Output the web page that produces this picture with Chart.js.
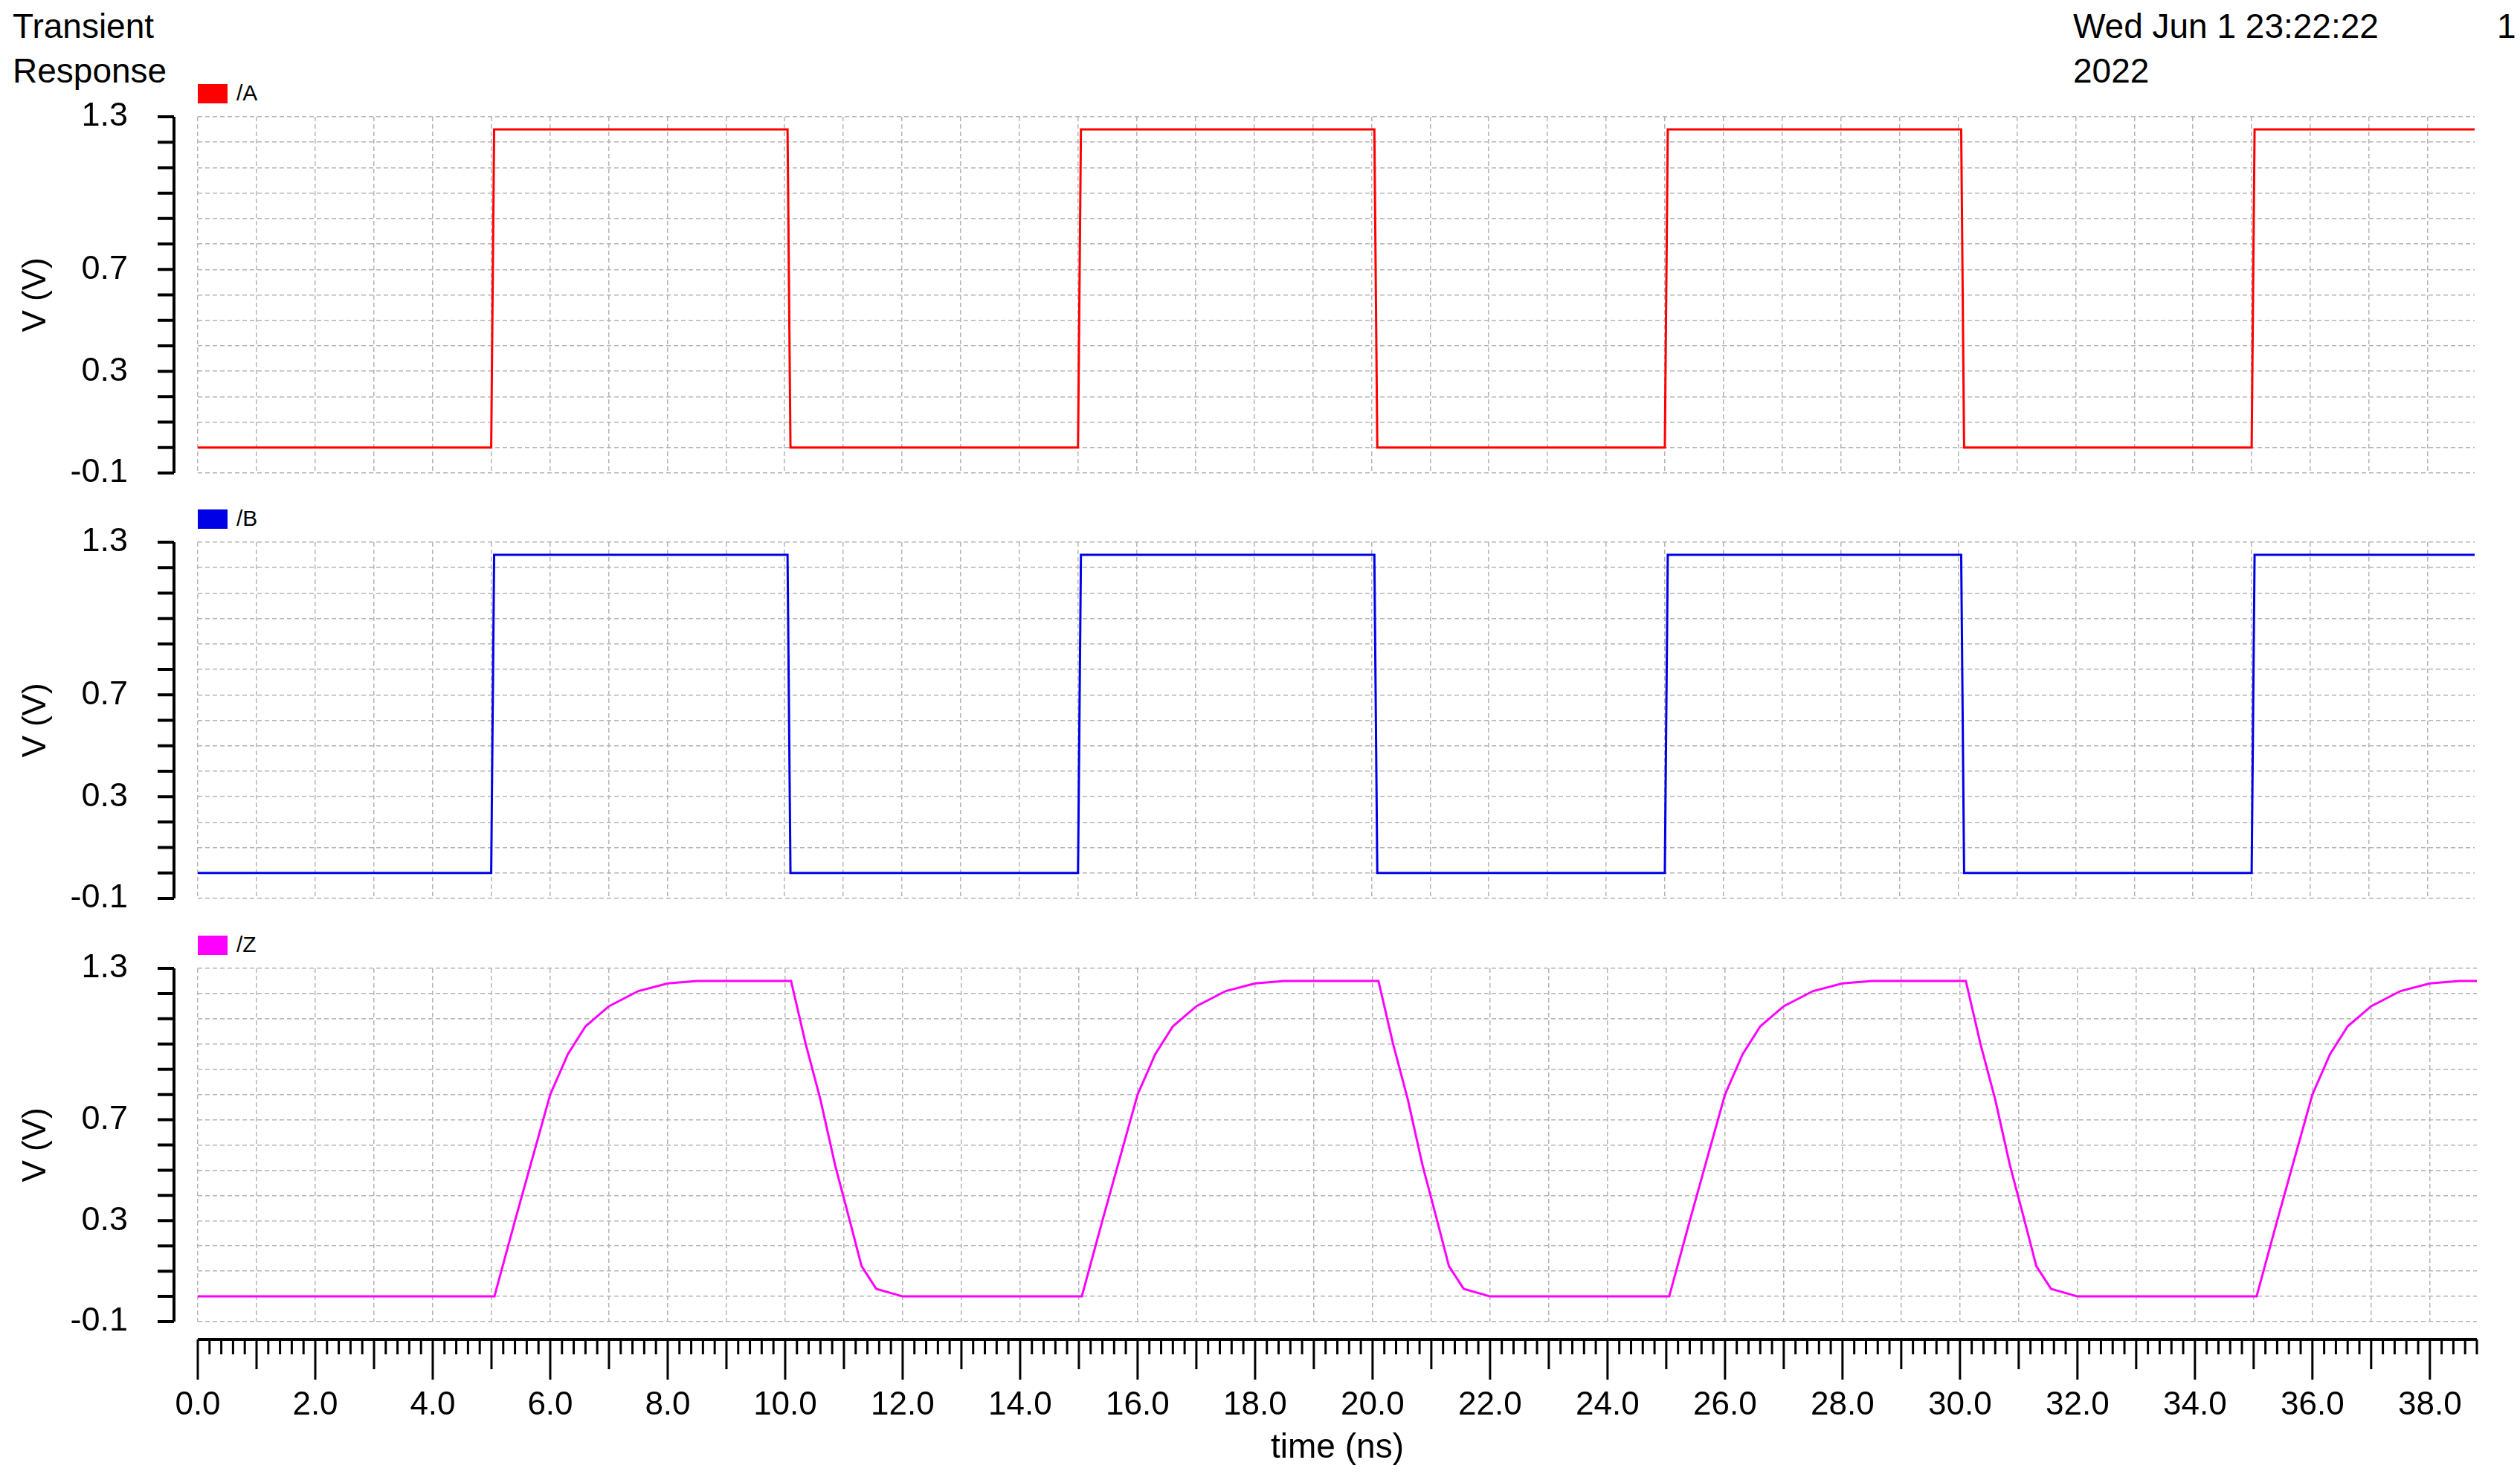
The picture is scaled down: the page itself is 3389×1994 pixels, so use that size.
<!DOCTYPE html>
<html>
<head>
<meta charset="utf-8">
<script src="https://cdn.jsdelivr.net/npm/chart.js@4/dist/chart.umd.min.js"></script>
<style>
  body { margin: 0; width: 3389px; height: 1994px; background: #fff; position: relative; overflow: hidden; font-family: "Liberation Sans", Arial, sans-serif; }
  canvas { position: absolute; left: 0; }
  .txt { position: absolute; font-size: 46px; color: #000; line-height: 60px; }
  .leg { position: absolute; left: 266px; font-size: 30px; }
  .leg span { display: inline-block; width: 40px; height: 26px; vertical-align: -4px; margin-right: 12px; }
</style>
</head>
<body>
<div class="txt" style="left:17px; top:5px;">Transient<br>Response</div>
<div class="txt" style="left:2788px; top:5px;">Wed Jun 1 23:22:22<br>2022</div>
<div class="txt" style="left:3358px; top:5px;">1</div>
<div class="leg" style="top:108px;"><span style="background:#ff0000"></span>/A</div>
<div class="leg" style="top:680px;"><span style="background:#0000e6"></span>/B</div>
<div class="leg" style="top:1253px;"><span style="background:#ff00ff"></span>/Z</div>
<canvas id="cA" width="3389" height="721" style="top:36px"></canvas>
<canvas id="cB" width="3389" height="721" style="top:608px"></canvas>
<canvas id="cZ" width="3417" height="808" style="top:1181px"></canvas>
<script>
const aTime = [0, 5.0, 5.05, 10.05, 10.1, 15.0, 15.05, 20.05, 20.1, 25.0, 25.05, 30.05, 30.1, 35.0, 35.05, 38.8];
const aVolt = [0, 0, 1.25, 1.25, 0, 0, 1.25, 1.25, 0, 0, 1.25, 1.25, 0, 0, 1.25, 1.25];
const bTime = [0, 5.0, 5.05, 10.05, 10.1, 15.0, 15.05, 20.05, 20.1, 25.0, 25.05, 30.05, 30.1, 35.0, 35.05, 38.8];
const bVolt = [0, 0, 1.25, 1.25, 0, 0, 1.25, 1.25, 0, 0, 1.25, 1.25, 0, 0, 1.25, 1.25];
const zTime = [0, 5.05, 5.4, 5.7, 6.0, 6.3, 6.6, 7.0, 7.5, 8.0, 8.5, 10.1, 10.35, 10.6, 10.85, 11.1, 11.3, 11.55, 12.0,
  15.05, 15.4, 15.7, 16.0, 16.3, 16.6, 17.0, 17.5, 18.0, 18.5, 20.1, 20.35, 20.6, 20.85, 21.1, 21.3, 21.55, 22.0,
  25.05, 25.4, 25.7, 26.0, 26.3, 26.6, 27.0, 27.5, 28.0, 28.5, 30.1, 30.35, 30.6, 30.85, 31.1, 31.3, 31.55, 32.0,
  35.05, 35.4, 35.7, 36.0, 36.3, 36.6, 37.0, 37.5, 38.0, 38.5, 38.8];
const zVolt = [0, 0, 0.3, 0.55, 0.8, 0.96, 1.07, 1.15, 1.21, 1.24, 1.25, 1.25, 1.0, 0.78, 0.52, 0.3, 0.12, 0.03, 0,
  0, 0.3, 0.55, 0.8, 0.96, 1.07, 1.15, 1.21, 1.24, 1.25, 1.25, 1.0, 0.78, 0.52, 0.3, 0.12, 0.03, 0,
  0, 0.3, 0.55, 0.8, 0.96, 1.07, 1.15, 1.21, 1.24, 1.25, 1.25, 1.0, 0.78, 0.52, 0.3, 0.12, 0.03, 0,
  0, 0.3, 0.55, 0.8, 0.96, 1.07, 1.15, 1.21, 1.24, 1.25, 1.25];
const yLabels = [1.3, 0.7, 0.3, -0.1];
const xLabelStep = 2;

const PLOT_LEFT = 266, AXIS_X = 234;

// offset axis lines and tick marks, like the simulator plot
const axisDecor = {
  id: 'axisDecor',
  afterDraw(chart) {
    const ctx = chart.ctx, area = chart.chartArea;
    const y = chart.scales.y;
    ctx.save();
    ctx.strokeStyle = '#000';
    ctx.lineWidth = 4;
    ctx.beginPath();
    ctx.moveTo(AXIS_X, y.getPixelForValue(1.3));
    ctx.lineTo(AXIS_X, y.getPixelForValue(-0.1));
    y.ticks.forEach(t => {
      const py = y.getPixelForValue(t.value);
      ctx.moveTo(AXIS_X, py);
      ctx.lineTo(AXIS_X - 22, py);
    });
    ctx.stroke();
    if (chart.options.plugins.axisDecor.bottomAxis) {
      const x = chart.scales.x;
      const ax = area.bottom + 24;
      ctx.beginPath();
      ctx.moveTo(x.getPixelForValue(0), ax);
      ctx.lineTo(area.right, ax);
      ctx.stroke();
      ctx.lineWidth = 3;
      ctx.beginPath();
      x.ticks.forEach(t => {
        const k = Math.round(t.value * 10);
        const len = k % 20 === 0 ? 54 : (k % 10 === 0 ? 40 : 20);
        const px = x.getPixelForValue(t.value);
        ctx.moveTo(px, ax);
        ctx.lineTo(px, ax + len);
      });
      ctx.stroke();
    }
    ctx.restore();
  }
};

function makeChart(id, times, volts, color, showX) {
  const pts = times.map((t, i) => ({ x: t, y: volts[i] }));
  return new Chart(document.getElementById(id), {
    type: 'line',
    data: { datasets: [{ data: pts, borderColor: color, borderWidth: 3, pointRadius: 0, tension: 0, fill: false }] },
    plugins: [axisDecor],
    options: {
      responsive: false, animation: false, events: [],
      layout: { padding: { top: 0, right: 61, bottom: 0, left: 0 } },
      plugins: { legend: { display: false }, tooltip: { enabled: false }, axisDecor: { bottomAxis: showX } },
      scales: {
        x: {
          type: 'linear', min: 0, max: 38.8,
          afterFit(s) { s.height = showX ? 212 : 0; },
          border: { display: false, dash: [6, 4] },
          grid: {
            drawTicks: false, lineWidth: 1.5,
            color: c => (c.tick && Math.abs(c.tick.value - Math.round(c.tick.value)) < 1e-6) ? '#b4b4b4' : 'rgba(0,0,0,0)'
          },
          ticks: {
            display: showX, stepSize: 0.2, autoSkip: false, maxRotation: 0, padding: 86, color: '#000',
            font: { family: '"Liberation Sans", Arial', size: 44 },
            callback: v => (Math.round(v * 10) % (xLabelStep * 10) === 0 ? v.toFixed(1) : '')
          },
          title: { display: showX, text: 'time (ns)', color: '#000', padding: { top: 0, bottom: 14 },
            font: { family: '"Liberation Sans", Arial', size: 46 } }
        },
        y: {
          min: -0.1, max: 1.3,
          afterFit(s) { s.width = PLOT_LEFT; },
          border: { display: false, dash: [6, 4] },
          grid: { drawTicks: false, lineWidth: 1.5, color: '#b4b4b4' },
          ticks: {
            stepSize: 0.1, autoSkip: false, padding: 94, color: '#000',
            font: { family: '"Liberation Sans", Arial', size: 45 },
            callback: v => (yLabels.some(l => Math.abs(l - v) < 1e-6) ? v.toFixed(1) : '')
          },
          title: { display: true, text: 'V (V)', color: '#000', padding: { top: 22, bottom: 0 },
            font: { family: '"Liberation Sans", Arial', size: 44 } }
        }
      }
    }
  });
}

makeChart('cA', aTime, aVolt, '#ff0000', false);
makeChart('cB', bTime, bVolt, '#0000e6', false);
makeChart('cZ', zTime, zVolt, '#ff00ff', true);
</script>
</body>
</html>
